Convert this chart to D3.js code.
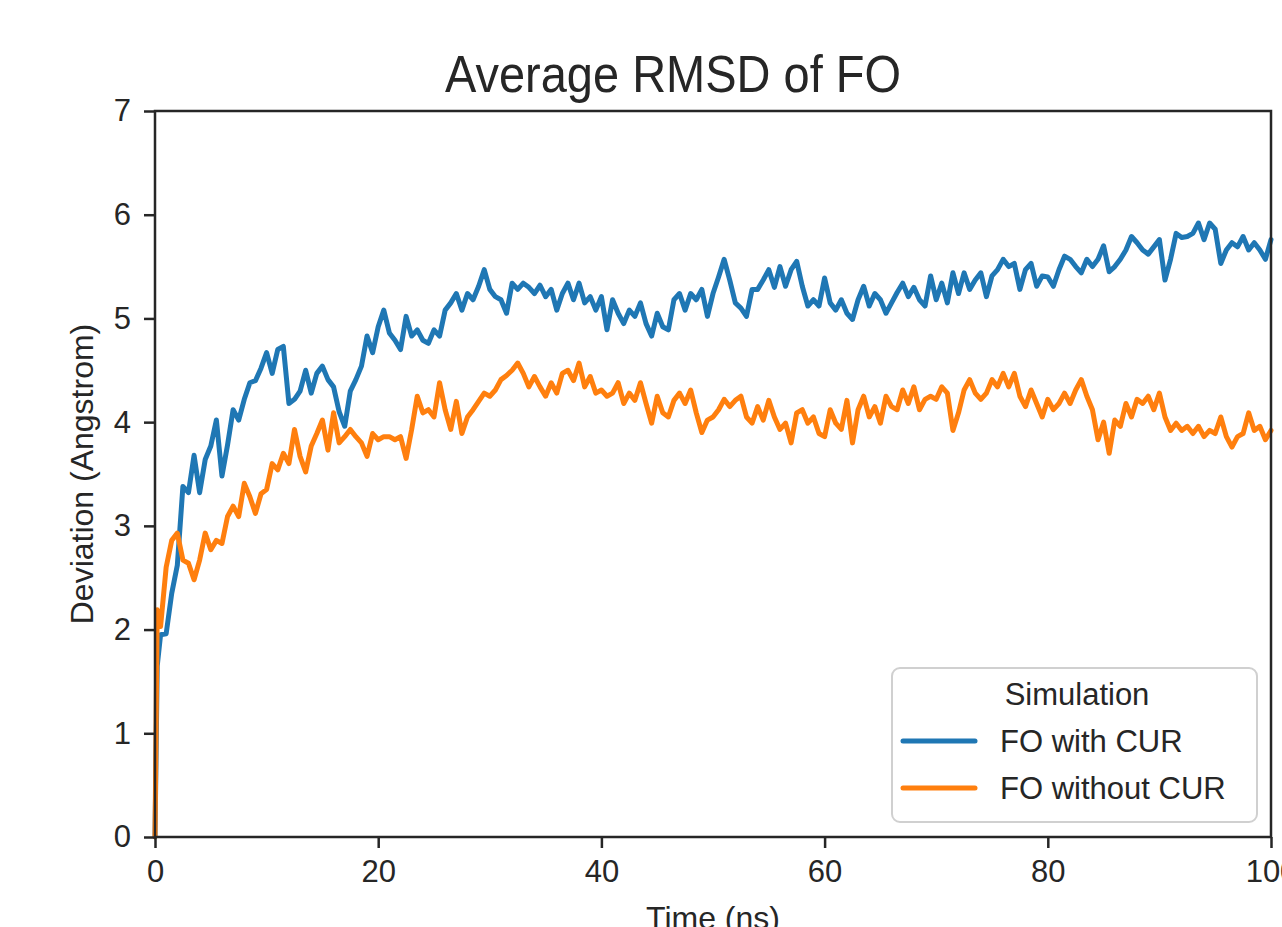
<!DOCTYPE html>
<html>
<head>
<meta charset="utf-8">
<script src="https://cdn.jsdelivr.net/npm/d3@7"></script>
<style>
	body { margin: 0; background: #fff; }
	text { font-family: "Liberation Sans", Arial, sans-serif; fill: #262626; }
</style>
</head>
<body>
<svg id="chart" width="1282" height="927"></svg>
<script>
// time grid in ns (first two points are the start of the run)
var times = [0, 0.2].concat(d3.range(0.5, 100.01, 0.5));

var withCur = [0, 1.65,
	1.95, 1.96, 2.35, 2.62, 3.38, 3.32, 3.68, 3.32, 3.64, 3.77,
	4.02, 3.48, 3.78, 4.12, 4.02, 4.22, 4.38, 4.40, 4.52, 4.67,
	4.47, 4.70, 4.73, 4.18, 4.22, 4.30, 4.50, 4.28, 4.47, 4.54,
	4.41, 4.34, 4.10, 3.96, 4.30, 4.41, 4.54, 4.83, 4.67, 4.92,
	5.08, 4.86, 4.79, 4.70, 5.02, 4.83, 4.89, 4.79, 4.76, 4.89,
	4.83, 5.08, 5.15, 5.24, 5.08, 5.24, 5.18, 5.31, 5.47, 5.28,
	5.21, 5.18, 5.05, 5.34, 5.28, 5.34, 5.30, 5.24, 5.32, 5.21,
	5.28, 5.08, 5.24, 5.34, 5.18, 5.34, 5.15, 5.21, 5.08, 5.21,
	4.89, 5.18, 5.05, 4.95, 5.08, 5.02, 5.15, 4.95, 4.83, 5.05,
	4.92, 4.89, 5.18, 5.24, 5.08, 5.24, 5.18, 5.28, 5.02, 5.24,
	5.40, 5.57, 5.37, 5.15, 5.10, 5.02, 5.28, 5.28, 5.37, 5.47,
	5.30, 5.50, 5.31, 5.47, 5.55, 5.31, 5.12, 5.18, 5.12, 5.39,
	5.15, 5.08, 5.18, 5.05, 4.99, 5.18, 5.31, 5.12, 5.24, 5.18,
	5.05, 5.15, 5.25, 5.34, 5.21, 5.30, 5.18, 5.12, 5.41, 5.18,
	5.34, 5.15, 5.44, 5.24, 5.44, 5.28, 5.37, 5.44, 5.21, 5.41,
	5.47, 5.57, 5.50, 5.53, 5.28, 5.47, 5.53, 5.31, 5.41, 5.40,
	5.31, 5.47, 5.60, 5.57, 5.50, 5.44, 5.57, 5.50, 5.57, 5.70,
	5.45, 5.50, 5.57, 5.66, 5.79, 5.73, 5.66, 5.62, 5.69, 5.76,
	5.37, 5.57, 5.82, 5.78, 5.79, 5.82, 5.92, 5.76, 5.92, 5.86,
	5.53, 5.66, 5.73, 5.69, 5.79, 5.66, 5.73, 5.66, 5.57, 5.76];

var withoutCur = [0, 2.19,
	2.03, 2.60, 2.86, 2.93, 2.67, 2.64, 2.48, 2.67, 2.93, 2.77,
	2.86, 2.83, 3.09, 3.19, 3.09, 3.41, 3.28, 3.12, 3.31, 3.35,
	3.60, 3.54, 3.70, 3.60, 3.93, 3.67, 3.52, 3.77, 3.89, 4.02,
	3.73, 4.09, 3.80, 3.86, 3.93, 3.86, 3.80, 3.67, 3.89, 3.83,
	3.86, 3.86, 3.83, 3.86, 3.65, 3.93, 4.25, 4.09, 4.12, 4.05,
	4.38, 4.12, 3.93, 4.20, 3.89, 4.05, 4.12, 4.20, 4.28, 4.25,
	4.31, 4.41, 4.45, 4.50, 4.57, 4.47, 4.34, 4.44, 4.34, 4.25,
	4.38, 4.28, 4.47, 4.50, 4.40, 4.57, 4.34, 4.44, 4.28, 4.31,
	4.25, 4.28, 4.38, 4.18, 4.28, 4.21, 4.38, 4.18, 3.99, 4.25,
	4.09, 4.05, 4.21, 4.28, 4.18, 4.31, 4.09, 3.90, 4.02, 4.05,
	4.12, 4.22, 4.15, 4.21, 4.25, 4.05, 3.99, 4.15, 4.02, 4.21,
	4.05, 3.93, 3.99, 3.80, 4.09, 4.12, 3.99, 4.05, 3.89, 3.86,
	4.12, 3.99, 3.93, 4.21, 3.80, 4.12, 4.25, 4.05, 4.15, 3.99,
	4.25, 4.15, 4.12, 4.31, 4.18, 4.34, 4.12, 4.22, 4.25, 4.22,
	4.34, 4.28, 3.92, 4.09, 4.31, 4.41, 4.28, 4.22, 4.28, 4.41,
	4.34, 4.47, 4.34, 4.47, 4.25, 4.15, 4.31, 4.18, 4.05, 4.22,
	4.12, 4.18, 4.28, 4.18, 4.31, 4.41, 4.25, 4.12, 3.83, 4.00,
	3.70, 4.02, 3.96, 4.18, 4.05, 4.22, 4.18, 4.25, 4.12, 4.28,
	4.05, 3.92, 3.99, 3.92, 3.96, 3.89, 3.96, 3.86, 3.92, 3.89,
	4.05, 3.86, 3.76, 3.86, 3.89, 4.09, 3.92, 3.96, 3.83, 3.92];

var seriesNames = ["FO with CUR", "FO without CUR"];
var seriesColors = ["#1f77b4", "#ff7f0e"];
var xTicks = [0, 20, 40, 60, 80, 100];
var yTicks = [0, 1, 2, 3, 4, 5, 6, 7];

var plotLeft = 155, plotRight = 1271, plotTop = 111, plotBottom = 837;

var svg = d3.select("#chart");

var x = d3.scaleLinear().domain([0, 100]).range([plotLeft, plotRight]);
var y = d3.scaleLinear().domain([0, 7]).range([plotBottom, plotTop]);

var line = d3.line()
	.x(function(d) { return x(d[0]); })
	.y(function(d) { return y(d[1]); });

var allSeries = [withCur, withoutCur];
for (var i = 0; i < allSeries.length; i++) {
	var pts = times.map(function(t, j) { return [t, allSeries[i][j]]; });
	svg.append("path")
		.datum(pts)
		.attr("d", line)
		.attr("fill", "none")
		.attr("stroke", seriesColors[i])
		.attr("stroke-width", 5)
		.attr("stroke-linejoin", "round")
		.attr("stroke-linecap", "round");
}

// axes
var xAxis = svg.append("g")
	.attr("transform", "translate(0," + plotBottom + ")")
	.call(d3.axisBottom(x).tickValues(xTicks).tickFormat(d3.format("d")).tickSize(11).tickPadding(12));
var yAxis = svg.append("g")
	.attr("transform", "translate(" + plotLeft + ",0)")
	.call(d3.axisLeft(y).tickValues(yTicks).tickFormat(d3.format("d")).tickSize(11).tickPadding(13));

[xAxis, yAxis].forEach(function(ax) {
	ax.select(".domain").remove();
	ax.selectAll(".tick line").attr("stroke", "#262626").attr("stroke-width", 2.5);
	ax.selectAll(".tick text")
		.attr("fill", "#262626")
		.style("font-size", "31px")
		.style("font-family", "'Liberation Sans', Arial, sans-serif");
});

// frame
svg.append("rect")
	.attr("x", plotLeft)
	.attr("y", plotTop)
	.attr("width", plotRight - plotLeft)
	.attr("height", plotBottom - plotTop)
	.attr("fill", "none")
	.attr("stroke", "#262626")
	.attr("stroke-width", 2.5);

svg.append("text")
	.attr("transform", "translate(673,92) scale(1,1.12)")
	.attr("text-anchor", "middle")
	.style("font-size", "47px")
	.text("Average RMSD of FO");

svg.append("text")
	.attr("transform", "translate(93," + ((plotTop + plotBottom) / 2) + ") rotate(-90)")
	.attr("text-anchor", "middle")
	.style("font-size", "32px")
	.text("Deviation (Angstrom)");

svg.append("text")
	.attr("x", (plotLeft + plotRight) / 2)
	.attr("y", 929)
	.attr("text-anchor", "middle")
	.style("font-size", "32px")
	.text("Time (ns)");

// legend
var legend = svg.append("g");
legend.append("rect")
	.attr("x", 892)
	.attr("y", 668)
	.attr("width", 365)
	.attr("height", 154)
	.attr("rx", 8)
	.attr("ry", 8)
	.attr("fill", "#fff")
	.attr("fill-opacity", 0.8)
	.attr("stroke", "#d0d0d0")
	.attr("stroke-width", 2);

legend.append("text")
	.attr("x", 1077)
	.attr("y", 705)
	.attr("text-anchor", "middle")
	.style("font-size", "31px")
	.text("Simulation");

seriesNames.forEach(function(name, k) {
	var ly = 741 + k * 47;
	legend.append("line")
		.attr("x1", 903)
		.attr("x2", 975)
		.attr("y1", ly)
		.attr("y2", ly)
		.attr("stroke", seriesColors[k])
		.attr("stroke-width", 5)
		.attr("stroke-linecap", "round");
	legend.append("text")
		.attr("x", 1000)
		.attr("y", ly + 11)
		.style("font-size", "31px")
		.text(name);
});
</script>
</body>
</html>
